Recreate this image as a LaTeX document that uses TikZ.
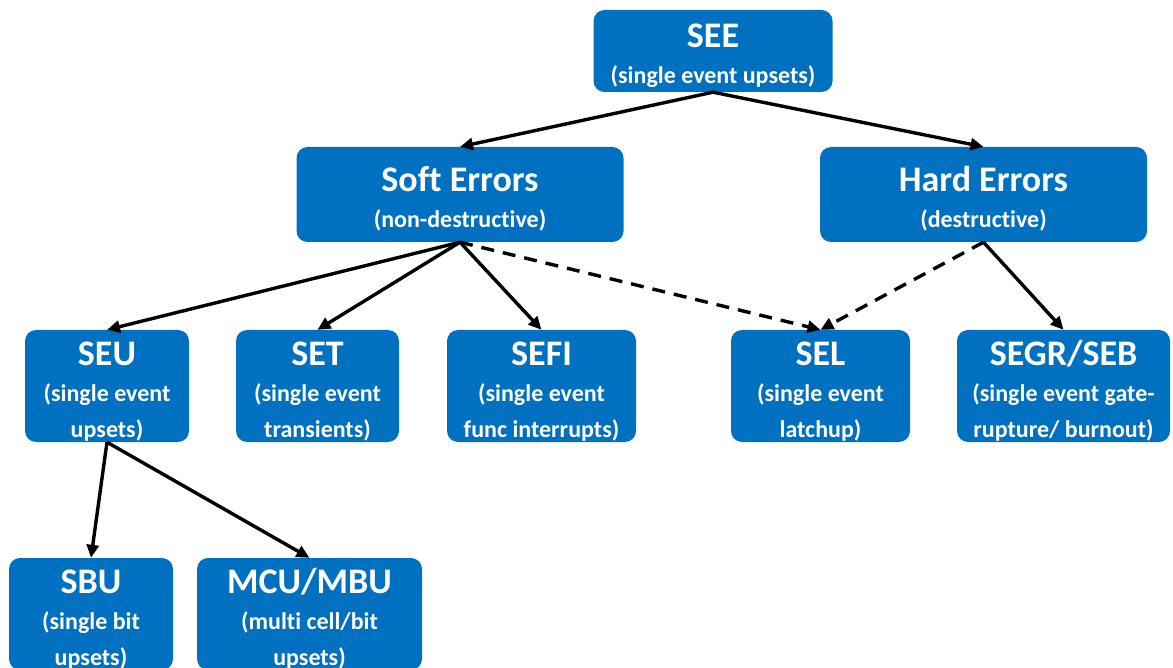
\documentclass[tikz,border=0pt]{standalone}
\usepackage{fontspec}
\setmainfont{Carlito}[RawFeature={-liga;-clig;-calt;-dlig}]
\usepackage{tikz}
\usetikzlibrary{arrows.meta}
\definecolor{seeblue}{HTML}{0070C0}
\definecolor{seeink}{HTML}{000000}
\newcommand{\boxtitle}[1]{{\fontsize{36}{38}\selectfont\rule{0pt}{34pt}#1}}

\begin{document}
\begin{tikzpicture}[
    x=1pt, y=-1pt,
    >={Triangle[length=13pt, width=12pt]},
    errbox/.style={fill=seeblue, rounded corners=11pt, text=white, align=center,
                   inner sep=0pt, font=\bfseries\fontsize{24}{36}\selectfont},
    link/.style={->, line width=3.4pt, draw=seeink},
    maybe/.style={link, dash pattern=on 13pt off 9pt},
]
\useasboundingbox (0,0) rectangle (1173,668);

% top level
\node[errbox, minimum width=239pt, minimum height=82pt] (see) at (713,51)
   {\boxtitle{SEE}\\(single event upsets)};

% soft / hard
\node[errbox, minimum width=327pt, minimum height=95pt] (soft) at (460,194.5)
   {\boxtitle{Soft Errors}\\(non-destructive)};
\node[errbox, minimum width=327pt, minimum height=95pt] (hard) at (983.5,194.5)
   {\boxtitle{Hard Errors}\\(destructive)};

% effect types
\node[errbox, minimum width=164pt, minimum height=112pt] (seu) at (107,386)
   {\boxtitle{SEU}\\(single event\\upsets)};
\node[errbox, minimum width=163pt, minimum height=112pt] (set) at (317.5,386)
   {\boxtitle{SET}\\(single event\\transients)};
\node[errbox, minimum width=189pt, minimum height=112pt] (sefi) at (541.5,386)
   {\boxtitle{SEFI}\\(single event\\func interrupts)};
\node[errbox, minimum width=179pt, minimum height=112pt] (sel) at (820.5,386)
   {\boxtitle{SEL}\\(single event\\latchup)};
\node[errbox, minimum width=213pt, minimum height=112pt] (segr) at (1063.5,386)
   {\boxtitle{SEGR/SEB}\\(single event gate-\\rupture/ burnout)};

% upset kinds
\node[errbox, minimum width=164pt, minimum height=112pt] (sbu) at (91,614)
   {\boxtitle{SBU}\\(single bit\\upsets)};
\node[errbox, minimum width=225pt, minimum height=112pt] (mcu) at (309.5,614)
   {\boxtitle{MCU/MBU}\\(multi cell/bit\\upsets)};

\draw[link] (see.south) -- (soft.north);
\draw[link] (see.south) -- (hard.north);

\draw[link] (soft.south) -- (seu.north);
\draw[link] (soft.south) -- (set.north);
\draw[link] (soft.south) -- (sefi.north);
\draw[maybe] (soft.south) -- (sel.north);

\draw[maybe] (hard.south) -- (sel.north);
\draw[link] (hard.south) -- (segr.north);

\draw[link] (seu.south) -- (sbu.north);
\draw[link] (seu.south) -- (mcu.north);

\end{tikzpicture}
\end{document}
